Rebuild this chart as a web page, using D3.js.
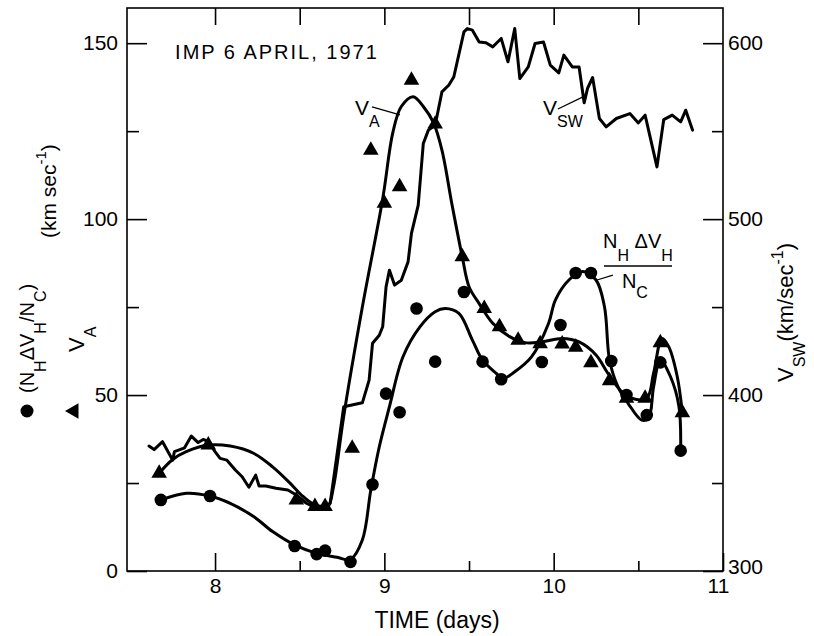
<!DOCTYPE html>
<html><head><meta charset="utf-8">
<script src="https://cdn.jsdelivr.net/npm/d3@7"></script>
<style>body{margin:0;background:#fff}</style>
</head><body>
<svg id="c" width="814" height="636"></svg>
<script>
// ---------- DATA ----------
// Alfven speed V_A (triangles), km/s
const vaTime  = [7.67,7.96,8.48,8.59,8.65,8.81,8.92,9.00,9.09,9.16,9.30,9.46,9.59,9.68,9.79,9.92,10.05,10.13,10.22,10.33,10.43,10.54,10.63,10.76];
const vaValue = [27.8,35.8,20.2,18.3,18.3,34.9,119.6,104.5,109.2,139.5,127,89.3,74.6,69.4,65.6,64.6,64.5,63.6,59.2,54.1,49.1,49.1,64.9,45.0];
// N_H dV_H / N_C (circles), km/s
const nTime  = [7.68,7.97,8.47,8.60,8.65,8.80,8.93,9.01,9.09,9.19,9.30,9.47,9.58,9.69,9.93,10.04,10.13,10.22,10.34,10.43,10.55,10.63,10.75];
const nValue = [20.2,21.3,7.1,4.8,5.8,2.6,24.6,50.4,45.1,74.6,59.5,79.3,59.5,54.5,59.4,69.9,84.7,84.7,59.7,50.0,44.3,59.3,34.2];
// hand-drawn smooth curve through V_A
const vaFitTime  = [7.67,7.75,7.83,7.96,8.09,8.23,8.34,8.44,8.51,8.58,8.64,8.67,8.70,8.76,8.87,8.99,9.05,9.10,9.17,9.23,9.29,9.34,9.40,9.46,9.50,9.56,9.64,9.74,9.83,9.93,10.05,10.15,10.25,10.32,10.40,10.46,10.55,10.59,10.64,10.68,10.73,10.76];
const vaFitValue = [27.8,31.7,33.9,35.8,35.5,33.4,29.6,25.1,21.6,19.0,18.3,18.6,24.0,44.0,75.0,105.7,124.6,132.0,134.8,132.0,127.4,119.6,104.0,89.3,80.8,76.0,70.4,66.6,64.9,65.1,66.1,65.1,61.4,56.2,51.0,49.1,49.1,56.2,66.1,63.7,55.2,44.8];
// hand-drawn smooth curve through N_H dV_H / N_C
const nFitTime  = [7.68,7.83,7.97,8.09,8.23,8.34,8.47,8.60,8.72,8.80,8.87,8.92,8.97,9.03,9.11,9.21,9.30,9.36,9.44,9.52,9.58,9.66,9.70,9.77,9.87,9.97,10.01,10.09,10.17,10.25,10.30,10.33,10.38,10.44,10.52,10.56,10.59,10.63,10.69,10.74,10.75];
const nFitValue = [20.2,22.1,21.3,19.2,15.4,11.2,7.4,5.0,3.9,3.3,8.8,23.0,35.3,46.7,60.9,69.4,73.7,74.6,73.2,65.6,59.9,56.2,54.7,56.6,60.9,70.4,77.0,82.7,85.1,82.7,75.1,59.9,52.3,47.6,42.9,43.4,52.3,59.9,55.2,46.7,34.4];
// solar wind speed V_SW, km/s (right axis)
const vswTime  = [7.61,7.64,7.69,7.75,7.76,7.82,7.86,7.90,7.93,7.96,8.00,8.03,8.07,8.12,8.16,8.20,8.24,8.26,8.30,8.36,8.43,8.48,8.54,8.60,8.65,8.68,8.76,8.87,8.91,8.93,8.97,8.99,9.01,9.03,9.06,9.10,9.14,9.16,9.20,9.23,9.26,9.30,9.33,9.34,9.38,9.41,9.47,9.49,9.52,9.56,9.60,9.64,9.66,9.69,9.73,9.77,9.80,9.85,9.89,9.94,9.98,10.03,10.06,10.11,10.15,10.18,10.20,10.23,10.27,10.31,10.37,10.45,10.50,10.54,10.61,10.65,10.70,10.75,10.78,10.82];
const vswValue = [371,369,373.5,363,367.8,370,376.7,373,374.8,373.5,367.8,364,363,357.4,353.6,347.6,354.5,348.3,348.3,347,346,343.2,338.5,335.6,335.6,338.5,393.4,395.6,408.5,429.4,434,438.8,461.5,471,462.5,465.3,475.7,491.9,508,543,550.6,553.4,567.6,572.3,576.1,580.8,606.4,608.3,607.4,600.7,600.2,597.9,599.8,602.7,589.4,608.3,579.9,586.5,599.8,600.7,587.5,583.1,593.2,586.5,586.5,566.1,574.3,580.5,557.2,552.4,557.2,560,554.7,559.1,529.7,556.6,559.1,555.3,561.9,550.6];
// ticks
const xMajorTicks = [8,9,10,11];
const xMinorTicks = [8.5,9.5,10.5];
const xTopTicks   = [8,8.5,9,9.5,10,10.5];
const yLeftMajor  = [0,50,100,150];
const yLeftMinor  = [25,75,125];
const yRightMajor = [300,400,500,600];
const yRightMinor = [350,450,550];
const titleText = "IMP 6 APRIL, 1971";
const xTitle = "TIME (days)";

// ---------- CHART ----------
const W=814,H=636;
const m={l:127,r:723,t:8,b:571};
const svg=d3.select("#c");
const font="'Liberation Sans', Arial, Helvetica, sans-serif";
svg.append("rect").attr("width",W).attr("height",H).attr("fill","#fff");

const x=d3.scaleLinear().domain([7.48,11]).range([m.l,m.r]);
const yL=d3.scaleLinear().domain([0,160]).range([m.b,m.t]);
const yR=d3.scaleLinear().domain([300,620]).range([m.b,m.t]);

function styleAxis(g){
  g.select(".domain").remove();
  g.selectAll("line").attr("stroke","#000").attr("stroke-width",1.6);
  g.selectAll("text").attr("font-family",font).attr("font-size",21).attr("fill","#000");
}
const gx=svg.append("g").attr("transform",`translate(0,${m.b})`)
  .call(d3.axisBottom(x).tickValues(xMajorTicks).tickSize(-18).tickSizeOuter(0).tickPadding(7).tickFormat(d3.format("d"))).call(styleAxis);
gx.selectAll(".tick text").filter(d=>d===11).attr("dx",-5);
svg.append("g").attr("transform",`translate(0,${m.b})`)
  .call(d3.axisBottom(x).tickValues(xMinorTicks).tickSize(-10).tickSizeOuter(0).tickFormat("")).call(styleAxis);
svg.append("g").attr("transform",`translate(0,${m.t})`)
  .call(d3.axisTop(x).tickValues(xTopTicks).tickSize(-17).tickSizeOuter(0).tickFormat("")).call(styleAxis);
svg.append("g").attr("transform",`translate(${m.l},0)`)
  .call(d3.axisLeft(yL).tickValues(yLeftMajor).tickSize(-20).tickSizeOuter(0).tickPadding(9).tickFormat(d3.format("d"))).call(styleAxis);
svg.append("g").attr("transform",`translate(${m.l},0)`)
  .call(d3.axisLeft(yL).tickValues(yLeftMinor).tickSize(-12).tickSizeOuter(0).tickFormat("")).call(styleAxis);
const gr=svg.append("g").attr("transform",`translate(${m.r},0)`)
  .call(d3.axisRight(yR).tickValues(yRightMajor).tickSize(-20).tickSizeOuter(0).tickPadding(5).tickFormat(d3.format("d"))).call(styleAxis);
gr.selectAll(".tick text").filter(d=>d===300).attr("dy","0.1em");
svg.append("g").attr("transform",`translate(${m.r},0)`)
  .call(d3.axisRight(yR).tickValues(yRightMinor).tickSize(-11).tickSizeOuter(0).tickFormat("")).call(styleAxis);

// frame
svg.append("rect").attr("x",m.l).attr("y",m.t).attr("width",m.r-m.l).attr("height",m.b-m.t)
  .attr("fill","none").attr("stroke","#000").attr("stroke-width",1.6);

const zip=(a,b)=>a.map((d,i)=>[d,b[i]]);
const smooth=d3.line().x(d=>x(d[0])).y(d=>yL(d[1])).curve(d3.curveCatmullRom.alpha(0.5));
const straightR=d3.line().x(d=>x(d[0])).y(d=>yR(d[1]));

const lineStyle=s=>s.attr("fill","none").attr("stroke","#000").attr("stroke-width",3).attr("stroke-linejoin","round").attr("stroke-linecap","round");
svg.append("path").datum(zip(vswTime,vswValue)).attr("d",straightR).call(lineStyle);
svg.append("path").datum(zip(vaFitTime,vaFitValue)).attr("d",smooth).call(lineStyle);
svg.append("path").datum(zip(nFitTime,nFitValue)).attr("d",smooth).call(lineStyle);

svg.append("g").selectAll("circle").data(zip(nTime,nValue)).join("circle")
  .attr("cx",d=>x(d[0])).attr("cy",d=>yL(d[1])).attr("r",6.3).attr("fill","#000");
const tri=d3.symbol().type(d3.symbolTriangle).size(105);
svg.append("g").selectAll("path").data(zip(vaTime,vaValue)).join("path")
  .attr("d",tri).attr("transform",d=>`translate(${x(d[0])},${yL(d[1])})`).attr("fill","#000");

// rich text helper: parts = [[text, kind]] kind: 0 normal, 1 sub, 2 sup
function rich(t, parts, size, subSize, subShift, supShift){
  let off=0;
  parts.forEach(([s,k])=>{
    const target = k===1?subShift:(k===2?-supShift:0);
    t.append("tspan").text(s).attr("font-size",k?subSize:size).attr("dy",target-off);
    off=target;
  });
  return t;
}
const txt=(g,xx,yy)=>g.append("text").attr("x",xx).attr("y",yy).attr("font-family",font).attr("fill","#000");

// title
txt(svg,x(7.764),yL(145.5)).attr("font-size",20).attr("letter-spacing",2).text(titleText);
// x title
txt(svg,(m.l+m.r)/2+12,628).attr("font-size",23).attr("text-anchor","middle").text(xTitle);

// V_A annotation
rich(txt(svg,x(8.827),yL(129.6)),[["V",0],["A",1]],21,16,12,0);
svg.append("line").attr("x1",x(8.927)).attr("y1",yL(131.9)).attr("x2",x(9.092)).attr("y2",yL(129.6)).attr("stroke","#000").attr("stroke-width",1.3);
// V_SW annotation
rich(txt(svg,x(9.937),yR(559.2)),[["V",0],["SW",1]],21,16,12,0);
svg.append("line").attr("x1",x(10.025)).attr("y1",yR(562.6)).attr("x2",x(10.173)).attr("y2",yR(569.5)).attr("stroke","#000").attr("stroke-width",1.3);
// fraction annotation
rich(txt(svg,x(10.291),yL(91.8)),[["N",0],["H",1],[" ΔV",0],["H",1]],20,16,13,0);
svg.append("line").attr("x1",x(10.297)).attr("y1",yL(86.7)).attr("x2",x(10.699)).attr("y2",yL(86.7)).attr("stroke","#000").attr("stroke-width",1.5);
rich(txt(svg,x(10.403),yL(80.4)),[["N",0],["C",1]],20,16,10,0);
svg.append("line").attr("x1",x(10.256)).attr("y1",yL(82.7)).attr("x2",x(10.350)).attr("y2",yL(84.1)).attr("stroke","#000").attr("stroke-width",1.3);

// left axis title (rotated)
const lg=svg.append("g");
lg.append("circle").attr("cx",27).attr("cy",411).attr("r",6.5).attr("fill","#000");
lg.append("path").attr("d",tri).attr("transform","translate(74,411) rotate(-90)").attr("fill","#000");
rich(lg.append("text").attr("transform","translate(34,393) rotate(-90)").attr("font-family",font),
  [["(N",0],["H",1],["ΔV",0],["H",1],["/N",0],["C",1],[")",0]],20,16,12,0);
rich(lg.append("text").attr("transform","translate(56,238) rotate(-90)").attr("font-family",font),
  [["(km sec",0],["-1",2],[")",0]],21,15,0,10);
rich(lg.append("text").attr("transform","translate(84,352) rotate(-90)").attr("font-family",font),
  [["V",0],["A",1]],22,16,12,0);
// right axis title
rich(svg.append("text").attr("transform","translate(793,382) rotate(-90)").attr("font-family",font),
  [["V",0],["SW",1],["(km/sec",0],["-1",2],[")",0]],22,16,12,10);
</script>
</body></html>
